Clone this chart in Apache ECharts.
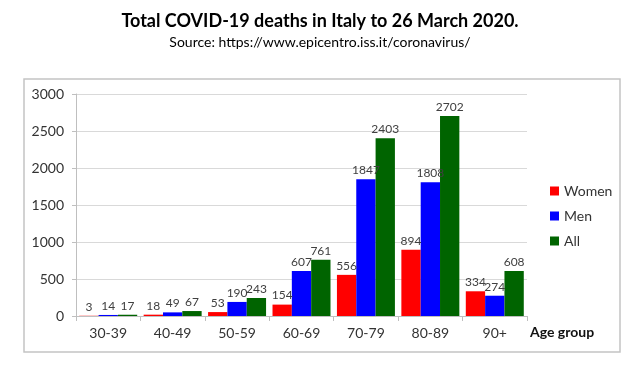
<!DOCTYPE html>
<html><head><meta charset="utf-8">
<script src="https://cdn.jsdelivr.net/npm/echarts@6/dist/echarts.min.js"></script>
<style>html,body{margin:0;padding:0;background:#fff}#c{width:640px;height:375px}</style>
</head><body><div id="c"></div>
<script>
const categories = ['30-39','40-49','50-59','60-69','70-79','80-89','90+'];
const women = [3, 18, 53, 154, 556, 894, 334];
const men = [14, 49, 190, 607, 1847, 1808, 274];
const all = [17, 67, 243, 761, 2403, 2702, 608];
const yTicks = [0, 500, 1000, 1500, 2000, 2500, 3000];

const FONT = 'Lato, "Open Sans", sans-serif';
const chart = echarts.init(document.getElementById('c'), null, {renderer:'canvas'});
const lbl = {show:true, position:'top', distance:3, color:'#404040', fontSize:12, fontFamily:FONT};
chart.setOption({
  animation:false,
  title:[
    {text:'Total COVID-19 deaths in Italy to 26 March 2020.', left:'center', top:7,
     textStyle:{fontSize:18, fontWeight:'bold', color:'#000', fontFamily:FONT}},
    {text:'Source: https://www.epicentro.iss.it/coronavirus/', left:'center', top:30,
     textStyle:{fontSize:14, fontWeight:'normal', color:'#000', fontFamily:FONT}}
  ],
  graphic:[
    {type:'rect', shape:{x:24, y:79, width:596, height:273}, style:{fill:'none', stroke:'#c4c4c4', lineWidth:1.5}, z:-1},
    {type:'text', left:530, top:325, style:{text:'Age group', fontSize:14, fontWeight:'bold', fill:'#111', fontFamily:FONT}}
  ],
  legend:{orient:'vertical', left:545, top:179, itemWidth:9, itemHeight:9, itemGap:11,
    icon:'rect', textStyle:{fontSize:14, color:'#333', fontFamily:FONT},
    data:['Women','Men','All']},
  grid:{left:76, right:113, top:94, bottom:59},
  xAxis:{type:'category', data:categories,
    axisLine:{lineStyle:{color:'#bfbfbf'}},
    axisTick:{show:true, length:5, lineStyle:{color:'#bfbfbf'}},
    axisLabel:{fontSize:14, color:'#333', margin:10, fontFamily:FONT}},
  yAxis:{type:'value', min:0, max:3000, interval:500,
    axisLine:{show:true, lineStyle:{color:'#bfbfbf'}},
    axisTick:{show:true, length:4, inside:false, lineStyle:{color:'#bfbfbf'}},
    splitLine:{lineStyle:{color:'#d9d9d9'}},
    axisLabel:{fontSize:14, color:'#333', margin:12, fontFamily:FONT,
      formatter:v=>yTicks.includes(v)?String(v):''}},
  series:[
    {name:'Women', type:'bar', data:women, itemStyle:{color:'#ff0000'}, barGap:'0%', barCategoryGap:'10%', label:lbl},
    {name:'Men', type:'bar', data:men, itemStyle:{color:'#0000ff'}, barGap:'0%', barCategoryGap:'10%', label:lbl},
    {name:'All', type:'bar', data:all, itemStyle:{color:'#006400'}, barGap:'0%', barCategoryGap:'10%', label:lbl}
  ]
});
</script></body></html>
